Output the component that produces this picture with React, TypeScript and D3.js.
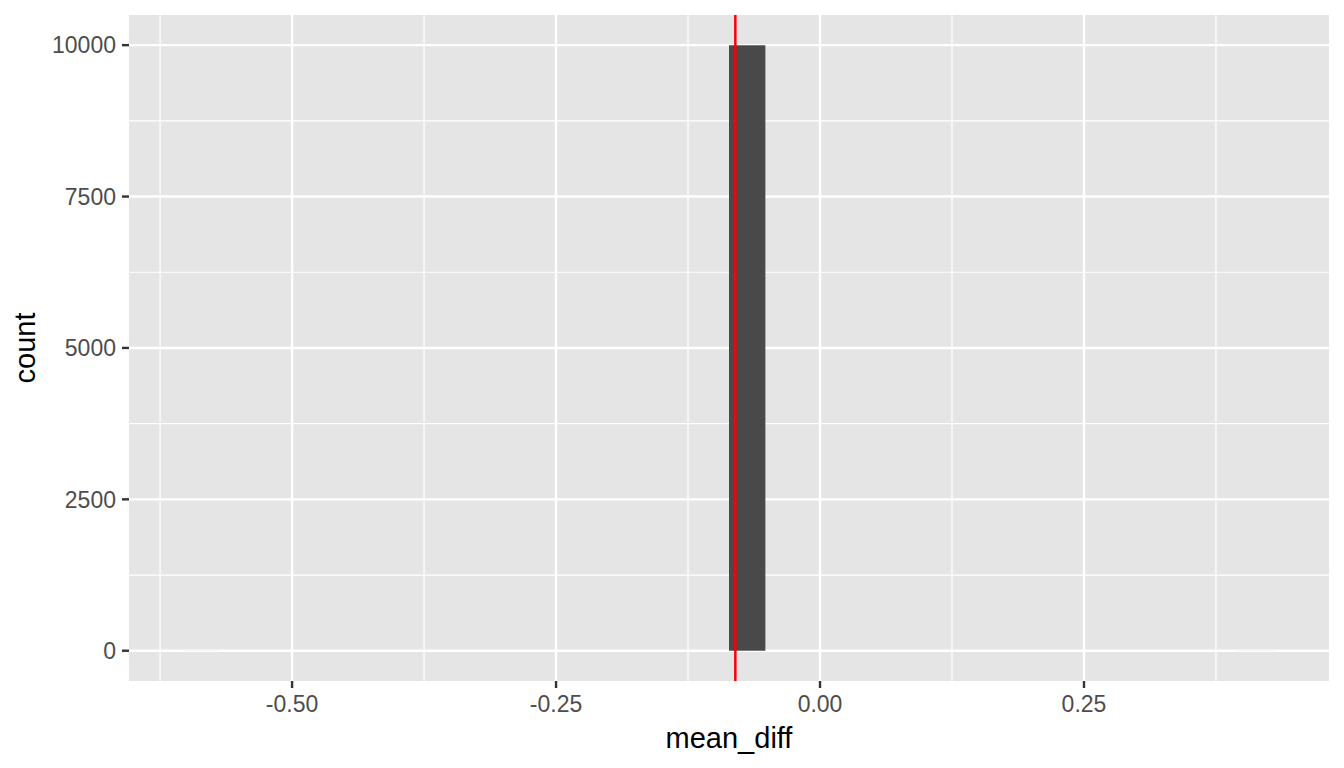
import { useEffect } from 'react';
import * as d3 from 'd3';

// histogram bins (ggplot default: 30 bins over the data range)
const binStart = -0.6028;
const binWidth = 0.03444;
const binCounts = [
  1, 0, 0, 0, 0, 0, 0, 0, 0, 0, 0, 0, 0, 0, 0, 9998, 0, 0, 0, 0, 0, 0, 0, 0, 0, 0, 0, 0, 0, 1,
];
const observedDiff = -0.0802;

const xMajor = [-0.5, -0.25, 0, 0.25];
const xMinor = [-0.625, -0.375, -0.125, 0.125, 0.375];
const yMajor = [0, 2500, 5000, 7500, 10000];
const yMinor = [1250, 3750, 6250, 8750];
const xLabels = ['-0.50', '-0.25', '0.00', '0.25'];

const width = 1344;
const height = 768;
const panel = { left: 129, right: 1329, top: 15, bottom: 681 };
const font = '"Liberation Sans", Arial, Helvetica, sans-serif';

export default function App() {
  useEffect(() => {
    document.body.style.margin = '0';
  }, []);

  const binEnd = binStart + binWidth * binCounts.length;
  const xPad = (binEnd - binStart) * 0.05;
  const x = d3
    .scaleLinear()
    .domain([binStart - xPad, binEnd + xPad])
    .range([panel.left, panel.right]);

  const maxCount = d3.max(binCounts) ?? 0;
  const yPad = maxCount * 0.05;
  const y = d3
    .scaleLinear()
    .domain([-yPad, maxCount + yPad])
    .range([panel.bottom, panel.top]);

  const bins = binCounts.map((c, i) => ({
    x0: binStart + i * binWidth,
    x1: binStart + (i + 1) * binWidth,
    count: c,
  }));

  return (
    <svg width={width} height={height} style={{ display: 'block', fontFamily: font }}>
      <rect x={0} y={0} width={width} height={height} fill="#ffffff" />
      <rect
        x={panel.left}
        y={panel.top}
        width={panel.right - panel.left}
        height={panel.bottom - panel.top}
        fill="#e5e5e5"
      />
      {/* minor grid */}
      {xMinor.map((v) => (
        <line key={'xm' + v} x1={x(v)} x2={x(v)} y1={panel.top} y2={panel.bottom} stroke="#fff" strokeWidth={1.2} />
      ))}
      {yMinor.map((v) => (
        <line key={'ym' + v} x1={panel.left} x2={panel.right} y1={y(v)} y2={y(v)} stroke="#fff" strokeWidth={1.2} />
      ))}
      {/* major grid */}
      {xMajor.map((v) => (
        <line key={'xM' + v} x1={x(v)} x2={x(v)} y1={panel.top} y2={panel.bottom} stroke="#fff" strokeWidth={2.4} />
      ))}
      {yMajor.map((v) => (
        <line key={'yM' + v} x1={panel.left} x2={panel.right} y1={y(v)} y2={y(v)} stroke="#fff" strokeWidth={2.4} />
      ))}
      {/* bars */}
      {bins.map((b, i) => (
        <rect
          key={'b' + i}
          x={x(b.x0)}
          y={y(b.count)}
          width={x(b.x1) - x(b.x0)}
          height={y(0) - y(b.count)}
          fill="#494949"
        />
      ))}
      {/* observed statistic */}
      <line
        x1={x(observedDiff)}
        x2={x(observedDiff)}
        y1={panel.top}
        y2={panel.bottom}
        stroke="#ff0000"
        strokeWidth={2.5}
      />
      {/* y axis */}
      {yMajor.map((v) => (
        <g key={'yt' + v}>
          <line x1={panel.left - 7} x2={panel.left} y1={y(v)} y2={y(v)} stroke="#333333" strokeWidth={2.4} />
          <text
            x={panel.left - 13}
            y={y(v)}
            dy="0.36em"
            textAnchor="end"
            fontSize={23}
            fill="#4d4d4d"
          >
            {String(v)}
          </text>
        </g>
      ))}
      {/* x axis */}
      {xMajor.map((v, i) => (
        <g key={'xt' + v}>
          <line x1={x(v)} x2={x(v)} y1={panel.bottom} y2={panel.bottom + 7} stroke="#333333" strokeWidth={2.4} />
          <text x={x(v)} y={712} textAnchor="middle" fontSize={23} fill="#4d4d4d">
            {xLabels[i]}
          </text>
        </g>
      ))}
      <text x={(panel.left + panel.right) / 2} y={748} textAnchor="middle" fontSize={29} fill="#000">
        mean_diff
      </text>
      <text
        transform={`translate(35,${(panel.top + panel.bottom) / 2}) rotate(-90)`}
        textAnchor="middle"
        fontSize={29}
        fill="#000"
      >
        count
      </text>
    </svg>
  );
}
